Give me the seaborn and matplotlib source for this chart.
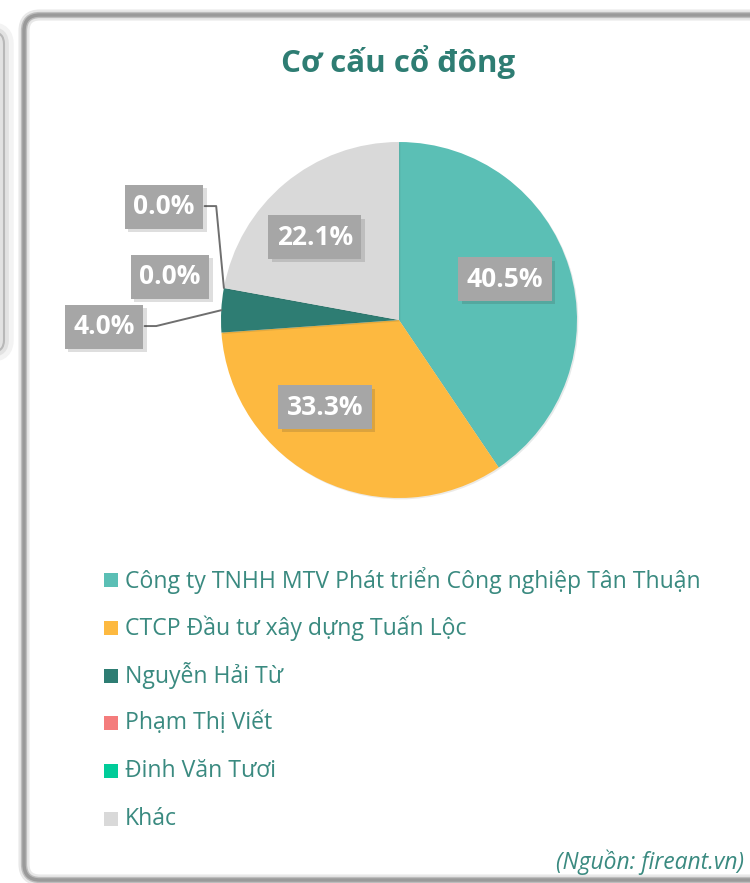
import numpy as np
import matplotlib
matplotlib.use("Agg")
import matplotlib.pyplot as plt
import matplotlib.patheffects as pe
from matplotlib.patches import Rectangle, PathPatch
from matplotlib.path import Path
from matplotlib.transforms import IdentityTransform
import seaborn as sns

# ---------------- data ----------------
title = "Cơ cấu cổ đông"
names = [
    "Công ty TNHH MTV Phát triển Công nghiệp Tân Thuận",
    "CTCP Đầu tư xây dựng Tuấn Lộc",
    "Nguyễn Hải Từ",
    "Phạm Thị Viết",
    "Đinh Văn Tươi",
    "Khác",
]
shares = [40.5, 33.3, 4.0, 0.0, 0.0, 22.1]
colors = ["#5BBFB5", "#FDB940", "#2E7D73", "#F47C7C", "#00CC99", "#D9D9D9"]
source = "(Nguồn: fireant.vn)"

# ---------------- style ----------------
sns.set_theme(style="white")
plt.rcParams["font.family"] = ["Open Sans", "Noto Sans", "DejaVu Sans"]

W, H = 750, 883
fig = plt.figure(figsize=(W / 100, H / 100), dpi=100)
fig.patch.set_facecolor("white")

ident = IdentityTransform()

def fy(y):
    return H - y

# left partial card (cut off) - only its right edge / shadow is visible
r0 = 12
lx_edge, ltop, lbot = 4, fy(32), fy(352)
lpath = Path([(-30, ltop), (lx_edge - r0, ltop), (lx_edge, ltop), (lx_edge, ltop - r0),
              (lx_edge, lbot + r0), (lx_edge, lbot), (lx_edge - r0, lbot), (-30, lbot)],
             [Path.MOVETO, Path.LINETO, Path.CURVE3, Path.CURVE3,
              Path.LINETO, Path.CURVE3, Path.CURVE3, Path.LINETO])
lp = PathPatch(lpath, transform=ident, facecolor="none", edgecolor="#b8b8b8",
               linewidth=1.5, zorder=0)
lp.set_path_effects([pe.Stroke(linewidth=14, foreground="#f3f3f3"),
                     pe.Stroke(linewidth=7, foreground="#e2e2e2"),
                     pe.Normal()])
fig.add_artist(lp)

# main card border (left, top, bottom; right side runs off the image)
r = 16
x0, top, bot = 24, fy(15), fy(880)
cpath = Path([(W + 30, top), (x0 + r, top), (x0, top), (x0, top - r),
              (x0, bot + r), (x0, bot), (x0 + r, bot), (W + 30, bot)],
             [Path.MOVETO, Path.LINETO, Path.CURVE3, Path.CURVE3,
              Path.LINETO, Path.CURVE3, Path.CURVE3, Path.LINETO])
cp = PathPatch(cpath, transform=ident, facecolor="none", edgecolor="#9a9a9a",
               linewidth=2.5, zorder=0)
cp.set_path_effects([pe.Stroke(linewidth=8, foreground="#e8e8e8"),
                     pe.Stroke(linewidth=4.5, foreground="#bdbdbd"),
                     pe.Normal()])
fig.add_artist(cp)

# title
fig.text(398 / W, 1 - 62 / H, title, ha="center", va="center",
         fontsize=22.5, fontweight="bold", color="#2E7D73")

# pie axes: center (399, 320), radius 178 px
cx, cy, R = 399, 320, 178
ax = fig.add_axes([(cx - R) / W, (H - cy - R) / H, 2 * R / W, 2 * R / H])
ax.set_facecolor("none")
wedges, _ = ax.pie(shares, colors=colors, startangle=90, counterclock=False,
                   radius=1.0, wedgeprops=dict(linewidth=0))
for w in wedges:
    w.set_path_effects([pe.SimplePatchShadow(offset=(1, -1), alpha=0.10),
                        pe.Normal()])
ax.set_xlim(-1, 1)
ax.set_ylim(-1, 1)
ax.axis("off")

# label positions (style, in radius units) and whether a leader line is drawn
label_pos = [(0.596, 0.230), (-0.416, -0.489), (-1.657, -0.039),
             (-1.287, 0.242), (-1.320, 0.635), (-0.472, 0.466)]
leader = [False, False, True, False, True, False]

bbox_style = dict(boxstyle="square,pad=0.32", facecolor="#A6A6A6",
                  edgecolor="none")
for i, (w, val) in enumerate(zip(wedges, shares)):
    lx, ly = label_pos[i]
    t = ax.text(lx, ly, f"{val:.1f}%", ha="center", va="center",
                fontsize=19, fontweight="bold", color="white",
                bbox=bbox_style, zorder=5)
    t.get_bbox_patch().set_path_effects(
        [pe.SimplePatchShadow(offset=(2.5, -2.5), alpha=0.16), pe.Normal()])
    if leader[i]:
        mid = np.deg2rad((w.theta1 + w.theta2) / 2)
        ex, ey = np.cos(mid), np.sin(mid)
        sx = lx + 0.228
        kx = sx + 0.065
        ax.plot([sx, kx, ex], [ly + 0.005, ly + 0.005, ey], color="#6f6f6f",
                linewidth=1.4, clip_on=False, zorder=4)

# legend (manual)
lx0, ly0, dy = 104, 580, 47.8
for i, (name, col) in enumerate(zip(names, colors)):
    yy = ly0 + i * dy
    fig.add_artist(Rectangle((lx0, fy(yy) - 7), 14, 14, transform=ident,
                             facecolor=col, edgecolor="none"))
    fig.text(125 / W, 1 - yy / H, name, ha="left", va="center",
             fontsize=16.6, color="#3A8A80")

# source
fig.text(744 / W, 1 - 862 / H, source, ha="right", va="center",
         fontsize=16.5, fontstyle="italic", color="#3A8A80")

fig.savefig("out.png", dpi=100, facecolor="white")
